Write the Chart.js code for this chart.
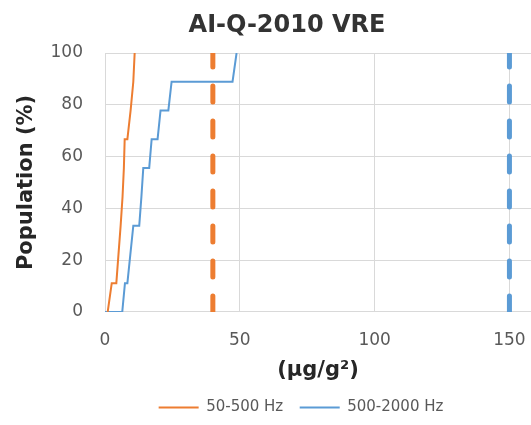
<!DOCTYPE html>
<html>
<head>
<meta charset="utf-8">
<script src="https://cdn.jsdelivr.net/npm/chart.js@4/dist/chart.umd.min.js"></script>
<style>
  html, body { margin: 0; padding: 0; background: #fff; overflow: hidden; }
  #wrap { width: 531px; height: 425px; }
</style>
</head>
<body>
<div id="wrap"><canvas id="chartCanvas" width="531" height="425"></canvas></div>
<script>
const chartTitle = 'AI-Q-2010 VRE';
const seriesNames = ['50-500 Hz', '500-2000 Hz'];

// 50-500 Hz step curve
const lowX = [1, 2.5, 4.2, 5, 5.8, 6.5, 7, 7.3, 8.3, 9.5, 10.5, 11];
const lowY = [0, 11.1, 11.1, 22.2, 33.3, 44.4, 55.6, 66.7, 66.7, 77.8, 88.9, 100];

// 500-2000 Hz step curve
const highX = [0, 6.4, 7.4, 8.3, 9.4, 10.5, 12.7, 13.5, 14.2, 16.4, 17.3, 19.5, 20.6, 23.5, 24.7, 47.3, 48.8];
const highY = [0, 0, 11.1, 11.1, 22.2, 33.3, 33.3, 44.4, 55.6, 55.6, 66.7, 66.7, 77.8, 77.8, 88.9, 88.9, 100];

// limit lines (vertical dashed)
const limitX = [40, 150];
const limitY = [0, 100];

const xTicks = [0, 50, 100, 150];
const xMax = 158;

const orange = '#ED7D31';
const blue = '#5B9BD5';
const gridColor = '#d9d9d9';
const font = '"DejaVu Sans", sans-serif';

function toPoints(xs, ys) {
  return xs.map((x, i) => ({ x, y: ys[i] }));
}

const titlePlugin = {
  id: 'chartTitle',
  afterLayout(chart) {
    // legend sits a bit right of centre in the original
    const lg = chart.legend;
    const shift = 301 - (lg.left + lg.right) / 2;
    lg.left += shift;
    lg.right += shift;
  },
  afterDraw(chart) {
    const ctx = chart.ctx;
    ctx.save();
    ctx.font = 'bold 24px ' + font;
    ctx.fillStyle = '#333333';
    ctx.textAlign = 'center';
    ctx.textBaseline = 'middle';
    ctx.fillText(chartTitle, 287, 26);
    ctx.restore();
  }
};

const lineStyle = { showLine: true, pointRadius: 0, borderWidth: 2, tension: 0, fill: false };
const dashStyle = { showLine: true, pointRadius: 0, borderWidth: 5, borderDash: [16, 19], borderCapStyle: 'round', fill: false, order: 0 };

const data = {
  datasets: [
    { label: seriesNames[0], data: toPoints(lowX, lowY), borderColor: orange, backgroundColor: orange, order: 1, ...lineStyle },
    { label: seriesNames[1], data: toPoints(highX, highY), borderColor: blue, backgroundColor: blue, order: 2, ...lineStyle },
    { label: 'limit1', data: toPoints([limitX[0], limitX[0]], limitY), borderColor: orange, ...dashStyle },
    { label: 'limit2', data: toPoints([limitX[1], limitX[1]], limitY), borderColor: blue, ...dashStyle }
  ]
};

const chartConfig = {
  type: 'scatter',
  data,
  plugins: [titlePlugin],
  options: {
    responsive: false,
    animation: false,
    layout: { padding: { top: 53, left: 0, right: 0, bottom: 0 } },
    scales: {
      x: {
        type: 'linear',
        min: 0,
        max: xMax,
        afterBuildTicks(scale) {
          scale.ticks = xTicks.map(v => ({ value: v }));
        },
        afterFit(scale) {
          scale.paddingRight = 0;
          scale.paddingLeft = 0;
        },
        ticks: { font: { family: font, size: 17 }, color: '#595959', padding: 18, maxRotation: 0 },
        grid: { color: gridColor, drawTicks: false },
        border: { color: gridColor },
        title: { display: true, text: '(µg/g²)', font: { family: font, size: 21, weight: 'bold' }, color: '#262626', padding: { top: -10, bottom: 0 } }
      },
      y: {
        min: 0,
        max: 100,
        ticks: { stepSize: 20, font: { family: font, size: 17 }, color: '#595959', padding: 22 },
        grid: { color: gridColor, drawTicks: false },
        border: { color: gridColor },
        title: { display: true, text: 'Population (%)', font: { family: font, size: 21, weight: 'bold' }, color: '#262626', padding: { top: 14, bottom: 0 } },
        afterFit(scale) { scale.width = 105; }
      }
    },
    plugins: {
      title: { display: false },
      tooltip: { enabled: false },
      legend: {
        position: 'bottom',
        labels: {
          font: { family: font, size: 15 },
          color: '#595959',
          boxWidth: 40,
          boxHeight: 2,
          padding: 16.5,
          filter: item => item.datasetIndex < 2,
          generateLabels(chart) {
            const items = Chart.defaults.plugins.legend.labels.generateLabels(chart);
            items.forEach(it => { it.lineWidth = 0; it.fillStyle = it.strokeStyle; it.lineDash = []; });
            return items;
          }
        }
      }
    }
  }
};

new Chart(document.getElementById('chartCanvas'), chartConfig);
</script>
</body>
</html>
